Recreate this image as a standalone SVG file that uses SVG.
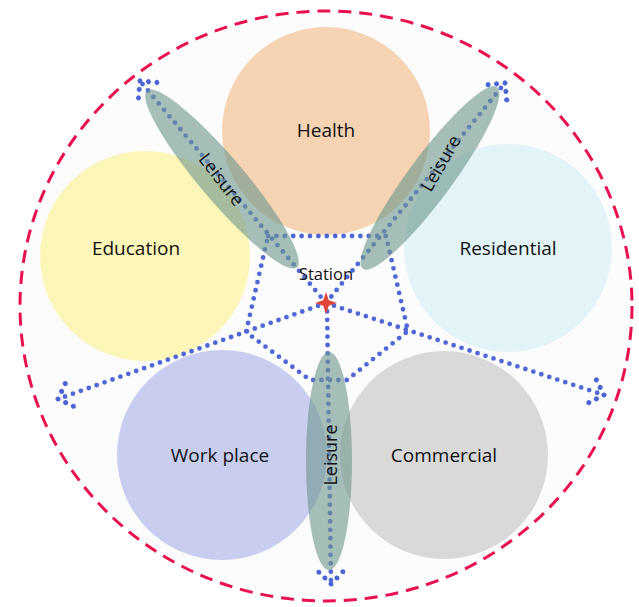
<svg xmlns="http://www.w3.org/2000/svg" width="639" height="607" viewBox="0 0 639 607">
  <style>
    .zone { stroke: none; }
    .label { font-family: "Open Sans", "Liberation Sans", sans-serif; font-size: 19px; fill: #111; text-anchor: middle; dominant-baseline: central; }
    .label.small { font-size: 16.5px; }
    .label.leisure-txt { font-size: 18px; }
    .path { fill: none; stroke: #5068d6; stroke-width: 4.8; stroke-linecap: round; stroke-dasharray: 0 8.4; }
    .leisure { fill: #6f988e; fill-opacity: 0.62; }
  </style>
  <defs>
    <!-- dotted chevron tip for the walking routes -->
    <marker id="dotTip" markerUnits="userSpaceOnUse" markerWidth="40" markerHeight="40" refX="0" refY="0" orient="auto" viewBox="-20 -20 40 40" overflow="visible">
      <g fill="#4a64d4">
        <circle cx="0" cy="0" r="2.5"/>
        <circle cx="-6" cy="-6" r="2.5"/>
        <circle cx="-12" cy="-12" r="2.5"/>
        <circle cx="-6" cy="6" r="2.5"/>
        <circle cx="-12" cy="12" r="2.5"/>
      </g>
    </marker>
  </defs>

  <!-- catchment boundary -->
  <g id="boundary">
    <ellipse cx="326" cy="306" rx="306" ry="295" fill="#fcfcfc" stroke="#e8104f" stroke-width="3" stroke-dasharray="13 8"/>
  </g>

  <!-- land-use zones -->
  <g id="health"><circle class="zone" cx="326" cy="131" r="104" fill="#f5d3b3"/></g>
  <g id="education"><circle class="zone" cx="145" cy="256" r="105" fill="#fdf6b9"/></g>
  <g id="residential"><circle class="zone" cx="508" cy="248" r="104" fill="#e3f4f8"/></g>
  <g id="workplace"><circle class="zone" cx="222" cy="455" r="105" fill="#c9cef1"/></g>
  <g id="commercial"><circle class="zone" cx="444" cy="455" r="104" fill="#d9d9d9"/></g>

  <!-- walking routes -->
  <g id="connectors">
    <polyline class="path" points="268,236 386,236 408,331 347,380 310,380 246,332 268,236"/>
    <line class="path" x1="326" y1="303" x2="140" y2="81" marker-end="url(#dotTip)"/>
    <line class="path" x1="326" y1="303" x2="505" y2="83" marker-end="url(#dotTip)"/>
    <line class="path" x1="326" y1="303" x2="58" y2="399" marker-end="url(#dotTip)"/>
    <line class="path" x1="326" y1="303" x2="604" y2="395" marker-end="url(#dotTip)"/>
    <line class="path" x1="327" y1="303" x2="331" y2="584" marker-end="url(#dotTip)"/>
  </g>

  <!-- leisure corridors -->
  <g id="leisure-nw">
    <ellipse class="leisure" cx="222" cy="179" rx="116" ry="22" transform="rotate(49.7 222 179)"/>
    <text class="label leisure-txt" x="222" y="179" transform="rotate(52 222 179)">Leisure</text>
  </g>
  <g id="leisure-ne">
    <ellipse class="leisure" cx="430" cy="178" rx="113" ry="22" transform="rotate(-53.5 430 178)"/>
    <text class="label leisure-txt" x="440" y="163" transform="rotate(-60 440 163)">Leisure</text>
  </g>
  <g id="leisure-s">
    <ellipse class="leisure" cx="329" cy="461" rx="23" ry="109"/>
    <text class="label leisure-txt" x="330" y="455" transform="rotate(-90 330 455)">Leisure</text>
  </g>

  <!-- station -->
  <g id="station">
    <path d="M326,292 L328.8,300.2 L337,303 L328.8,305.8 L326,314 L323.2,305.8 L315,303 L323.2,300.2 Z" fill="#e0453a"/>
    <text class="label small" x="326" y="273">Station</text>
  </g>

  <!-- zone labels -->
  <g id="labels">
    <text class="label" x="326" y="130">Health</text>
    <text class="label" x="136" y="248">Education</text>
    <text class="label" x="508" y="248">Residential</text>
    <text class="label" x="220" y="455">Work place</text>
    <text class="label" x="444" y="455">Commercial</text>
  </g>
</svg>
